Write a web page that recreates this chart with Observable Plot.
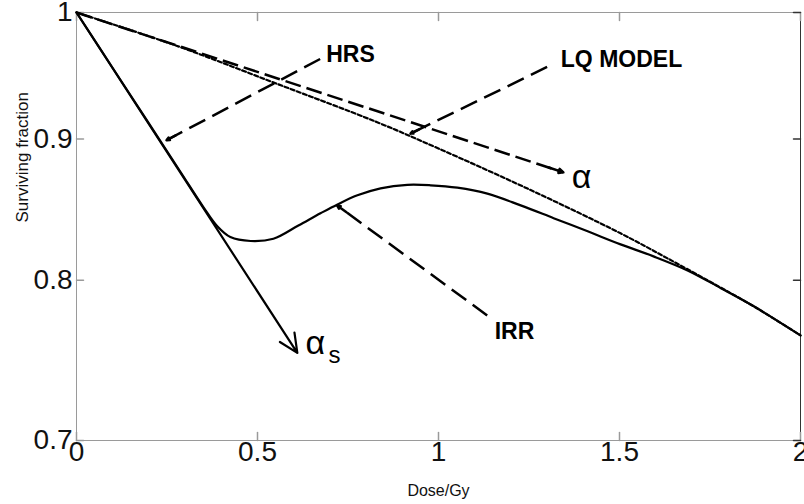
<!DOCTYPE html>
<html><head><meta charset="utf-8">
<script src="https://cdn.jsdelivr.net/npm/d3@7"></script>
<script src="https://cdn.jsdelivr.net/npm/@observablehq/plot@0.6"></script>
<style>body{margin:0;background:#fff;} #chart{width:804px;height:504px;overflow:hidden}</style>
</head><body><div id="chart"></div>
<script>
// ---- data ----
const doseTicks = [0, 0.5, 1, 1.5, 2];
const fracTicks = [0.7, 0.8, 0.9, 1];

// induced-repair (IRR) model curve
const irrDose = [0, 0.1, 0.2, 0.287, 0.35, 0.389, 0.425, 0.481, 0.544, 0.613, 0.674, 0.721, 0.776, 0.840, 0.914, 0.978, 1.052, 1.135, 1.227, 1.318, 1.412, 1.503, 1.594, 1.688, 1.779, 1.870, 2.0];
const irrFrac = [1, 0.9548, 0.9117, 0.8757, 0.8505, 0.8368, 0.8293, 0.8266, 0.8282, 0.8374, 0.8459, 0.8522, 0.8587, 0.8637, 0.8662, 0.8659, 0.8642, 0.8599, 0.8515, 0.8425, 0.8333, 0.8243, 0.8161, 0.8066, 0.7949, 0.7830, 0.7641];

// LQ model curve (dotted)
const lqDose = [0, 0.276, 0.552, 0.829, 0.997, 1.246, 1.503, 1.633, 1.779, 1.870, 2];
const lqFrac = [1, 0.9727, 0.9425, 0.9128, 0.8932, 0.8635, 0.8319, 0.8147, 0.7952, 0.7829, 0.7641];

// alpha line (dashed, arrow) and alpha_s line (solid, arrow)
const alphaDose = [0, 1.345];
const alphaFrac = [1, 0.8753];
const alphaSDose = [0, 0.61];
const alphaSFrac = [1, 0.753];

// annotations
const arrowLabels = ["HRS", "LQ MODEL", "IRR"];
const labelDose = [0.757, 1.5055, 1.21];
const labelFrac = [0.9658, 0.9618, 0.7666];
const arrowFromDose = [0.673, 1.300, 1.1345];
const arrowFromFrac = [0.962, 0.9556, 0.7769];
const arrowToDose = [0.2486, 0.9227, 0.720];
const arrowToFrac = [0.899, 0.904, 0.8515];

const symbolLabels = ["α", "α"];
const symbolDose = [1.395, 0.660];
const symbolFrac = [0.8717, 0.759];
const subLabel = ["s"];
const subDose = [0.7127];
const subFrac = [0.7514];

// ---- helpers ----
const font = "'Liberation Sans', Arial, Helvetica, sans-serif";
const axisGray = "#9a9a9a";
const tickShape = {draw(ctx, l) { ctx.moveTo(0, 0); ctx.lineTo(0, -l); }};
const near = (a, b, t) => a + (b - a) * t;
const nearLog = (a, b, t) => a * Math.pow(b / a, t);

const irr = irrDose.map((d, i) => ({d, f: irrFrac[i]}));
const lq = lqDose.map((d, i) => ({d, f: lqFrac[i]}));
const idx3 = arrowLabels.map((_, i) => i);

// short segments near the tips to carry solid arrow heads
const heads = [
  ...idx3.map(i => ({x1: near(arrowToDose[i], arrowFromDose[i], 0.06), y1: nearLog(arrowToFrac[i], arrowFromFrac[i], 0.06), x2: arrowToDose[i], y2: arrowToFrac[i]})),
  {x1: near(alphaDose[1], alphaDose[0], 0.03), y1: nearLog(alphaFrac[1], alphaFrac[0], 0.03), x2: alphaDose[1], y2: alphaFrac[1]}
];

const svg = Plot.plot({
  width: 804,
  height: 504,
  marginLeft: 76,
  marginRight: 4,
  marginTop: 12,
  marginBottom: 64,
  style: {fontFamily: font, background: "white", color: "black"},
  x: {domain: [0, 2], axis: null},
  y: {type: "log", domain: [0.7, 1], axis: null},
  marks: [
    Plot.frame({stroke: axisGray}),
    Plot.ruleX([doseTicks[doseTicks.length - 1]], {stroke: "#333"}),
    // inward ticks on all four sides
    Plot.vector(doseTicks, {x: d => d, frameAnchor: "bottom", length: 8, rotate: 0, anchor: "start", shape: tickShape, stroke: axisGray}),
    Plot.vector(doseTicks, {x: d => d, frameAnchor: "top", length: 8, rotate: 180, anchor: "start", shape: tickShape, stroke: axisGray}),
    Plot.vector(fracTicks, {y: d => d, frameAnchor: "left", length: 7, rotate: 90, anchor: "start", shape: tickShape, stroke: axisGray}),
    Plot.vector(fracTicks, {y: d => d, frameAnchor: "right", length: 7, rotate: -90, anchor: "start", shape: tickShape, stroke: "#333"}),
    // tick labels
    Plot.text(doseTicks, {x: d => d, frameAnchor: "bottom", dy: 20, text: d => String(d), fontSize: 28, fill: "#111"}),
    Plot.text(fracTicks, {y: d => d, frameAnchor: "left", dx: -4, textAnchor: "end", text: d => String(d), fontSize: 28, fill: "#111"}),
    // axis titles
    Plot.text(["Dose/Gy"], {frameAnchor: "bottom", dy: 55, text: d => d, fontSize: 16, fill: "#111"}),
    Plot.text(["Surviving fraction"], {frameAnchor: "left", dx: -54, dy: -4, rotate: -90, text: d => d, fontSize: 17, fill: "#111", ariaLabel: "ylabel"}),
    // curves
    Plot.line(lq, {x: "d", y: "f", curve: "catmull-rom", stroke: "black", strokeWidth: 2.2, strokeDasharray: "4,2.5"}),
    Plot.link([0], {x1: () => alphaDose[0], y1: () => alphaFrac[0], x2: () => alphaDose[1], y2: () => alphaFrac[1], stroke: "black", strokeWidth: 2.5, strokeDasharray: "16,6"}),
    Plot.line(irr, {x: "d", y: "f", curve: "catmull-rom", stroke: "black", strokeWidth: 2.2}),
    Plot.arrow([0], {x1: () => alphaSDose[0], y1: () => alphaSFrac[0], x2: () => alphaSDose[1], y2: () => alphaSFrac[1], stroke: "black", strokeWidth: 2.2, headLength: 14, headAngle: 50}),
    // annotation arrows
    Plot.link(idx3, {x1: i => arrowFromDose[i], y1: i => arrowFromFrac[i], x2: i => arrowToDose[i], y2: i => arrowToFrac[i], stroke: "black", strokeWidth: 2.5, strokeDasharray: "18,8"}),
    Plot.arrow(heads, {x1: "x1", y1: "y1", x2: "x2", y2: "y2", stroke: "black", strokeWidth: 2.5, headLength: 14, headAngle: 50}),
    // labels
    Plot.text(idx3, {x: i => labelDose[i], y: i => labelFrac[i], text: i => arrowLabels[i], fontSize: 23, fontWeight: "bold", fill: "black"}),
    Plot.text(symbolLabels, {x: (d, i) => symbolDose[i], y: (d, i) => symbolFrac[i], text: d => d, fontSize: 34, fill: "black"}),
    Plot.text(subLabel, {x: (d, i) => subDose[i], y: (d, i) => subFrac[i], text: d => d, fontSize: 24, fill: "black"})
  ]
});

d3.select(svg).select('g[aria-label="ylabel"] text')
  .attr("textLength", 183)
  .attr("lengthAdjust", "spacingAndGlyphs");

document.getElementById("chart").appendChild(svg);
</script>
</body></html>
